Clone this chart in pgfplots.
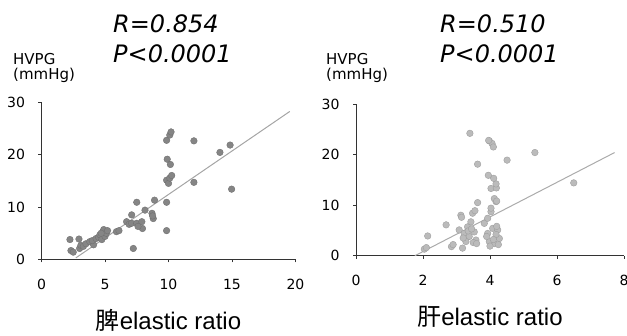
\documentclass[border=0pt]{standalone}
\usepackage{pgfplots}
\pgfplotsset{compat=1.18}
\usepackage{fontspec}
\setmainfont{DejaVu Sans}
\newfontfamily\lib{Liberation Sans}
\newfontfamily\cjk{Noto Sans CJK JP}
\definecolor{ptL}{HTML}{858585}
\definecolor{ptR}{HTML}{BBBBBB}
\definecolor{lnL}{HTML}{A5A5A5}
\definecolor{lnR}{HTML}{ABABAB}
\pgfplotsset{
  myax/.style={
    scale only axis, axis lines=left,
    axis line style={-, black!80, line width=0.8bp},
    tick style={black!80, line width=0.8bp},
    major tick length=3bp, tick align=outside,
    ymin=0, ymax=30, ytick={0,10,20,30},
    tick label style={font=\fontsize{14bp}{16bp}\selectfont},
    /pgf/number format/assume math mode=true,
    xticklabel shift=13bp, yticklabel shift=10bp,
    xlabel style={font=\lib\fontsize{24bp}{28bp}\selectfont, at={(axis description cs:0.5,0)}, anchor=base, yshift=-70bp},
    clip=false,
  }
}
\begin{document}
\begin{tikzpicture}
\useasboundingbox (0,0) rectangle (627bp,336bp);
% left
\begin{axis}[myax, at={(41.5bp,76.5bp)}, anchor=south west,
  width=254bp, height=157.5bp, xmin=0, xmax=20, xtick={0,5,10,15,20},
  xlabel={{\cjk 脾}elastic ratio}]
\addplot[lnL, line width=1bp] coordinates {(2.7,0.3) (19.55,28.2)};
\addplot[only marks, mark=*, mark size=3.3bp, mark options={fill=ptL, draw=ptL!85!black, line width=0.4bp}] table {
x y
2.24 3.8
2.95 3.9
2.32 1.7
2.5 1.4
3.0 2.1
3.1 2.7
3.3 2.5
3.5 3.0
3.8 3.4
4.1 2.8
4.0 3.6
4.3 4.0
4.5 4.2
4.6 4.7
4.75 3.8
4.85 5.3
5.0 4.4
4.9 5.7
5.1 5.0
5.2 5.5
4.7 5.0
5.9 5.3
6.1 5.5
6.7 7.2
6.9 6.7
7.1 8.5
7.1 6.9
7.23 2.1
7.5 6.9
7.5 10.9
7.9 7.2
7.95 5.9
7.6 6.3
8.15 9.4
8.7 8.8
8.8 7.8
8.75 8.3
8.9 11.3
9.85 10.9
9.85 5.5
9.85 15.1
10.0 14.5
10.1 15.5
10.25 16.0
9.9 19.1
10.15 18.1
9.85 22.7
10.1 23.7
10.2 24.3
12.0 22.6
12.0 14.7
14.05 20.4
14.85 21.8
14.97 13.4
};
\end{axis}
% right
\begin{axis}[myax, at={(356bp,80.3bp)}, anchor=south west,
  width=268bp, height=151.7bp, xmin=0, xmax=8, xtick={0,2,4,6,8},
  xlabel={{\cjk 肝}elastic ratio}]
\addplot[lnR, line width=1bp] coordinates {(1.76,0) (7.72,20.4)};
\addplot[only marks, mark=*, mark size=3.3bp, mark options={fill=ptR, draw=ptR!85!black, line width=0.4bp}] table {
x y
2.04 1.3
2.10 1.6
2.14 3.9
2.69 6.1
2.85 1.8
2.90 2.2
3.18 1.5
3.13 8.0
3.15 7.6
3.08 5.1
3.23 4.4
3.33 5.7
3.38 3.8
3.43 6.7
3.53 4.7
3.58 3.1
3.28 2.8
3.48 8.4
3.55 8.9
3.63 10.5
3.2 3.5
3.35 4.9
3.45 5.3
3.5 2.6
3.6 2.4
3.83 6.4
3.93 7.4
4.03 8.7
4.03 9.4
3.93 4.4
4.08 5.4
4.23 5.1
3.98 2.8
4.13 2.4
4.28 3.4
4.0 1.9
4.18 4.2
3.9 3.8
4.1 3.2
4.25 2.2
4.2 5.8
4.18 10.7
4.13 11.3
4.2 10.8
4.03 13.3
4.19 13.4
4.18 14.2
4.11 15.3
3.95 15.9
3.63 18.1
4.51 18.9
5.34 20.4
3.98 22.7
4.06 22.2
4.10 21.5
3.96 22.8
3.40 24.2
6.5 14.4
};
\end{axis}
% annotations
\node[anchor=base west, font=\fontsize{24bp}{28bp}\selectfont\itshape, inner sep=0] at (113bp,303bp) {R=0.854};
\node[anchor=base west, font=\fontsize{24bp}{28bp}\selectfont\itshape, inner sep=0] at (113bp,273bp) {P<0.0001};
\node[anchor=base west, font=\fontsize{24bp}{28bp}\selectfont\itshape, inner sep=0] at (440bp,303bp) {R=0.510};
\node[anchor=base west, font=\fontsize{24bp}{28bp}\selectfont\itshape, inner sep=0] at (440bp,273bp) {P<0.0001};
\node[anchor=base west, font=\fontsize{15bp}{17bp}\selectfont, inner sep=0] at (13bp,271bp) {HVPG};
\node[anchor=base west, font=\fontsize{15bp}{17bp}\selectfont, inner sep=0] at (13bp,256bp) {(mmHg)};
\node[anchor=base west, font=\fontsize{15bp}{17bp}\selectfont, inner sep=0] at (326bp,271bp) {HVPG};
\node[anchor=base west, font=\fontsize{15bp}{17bp}\selectfont, inner sep=0] at (326bp,256bp) {(mmHg)};
\end{tikzpicture}
\end{document}
